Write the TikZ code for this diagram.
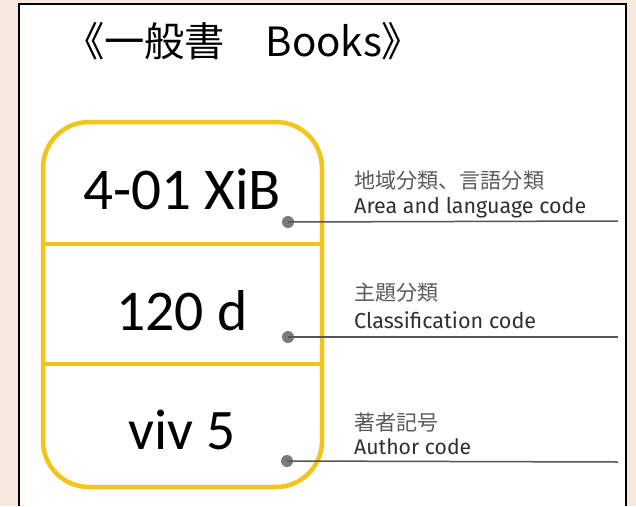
\documentclass[tikz,border=0pt]{standalone}
\usepackage{fontspec}
\usepackage{graphicx}
\newfontfamily\titlefont[RawFeature=+palt]{Noto Sans CJK JP}
\newfontfamily\jpfont{Noto Sans CJK JP}
\newfontfamily\codefont{Carlito}
\newfontfamily\labelfont{Fira Sans}
\definecolor{bgbeige}{HTML}{F5EADD}
\definecolor{gold}{HTML}{F3C41C}
\definecolor{leadgray}{HTML}{555555}
\definecolor{dotgray}{HTML}{7A7A7A}
\definecolor{jpgray}{HTML}{5A5A5A}
\definecolor{engray}{HTML}{303030}
\newcommand{\wfit}[2]{\resizebox{#1}{!}{#2}}
\tikzset{
  codetext/.style={anchor=base, inner sep=0pt, text=black,
    font=\codefont\fontsize{56}{60}\selectfont},
  jplabel/.style={anchor=base west, inner sep=0pt, text=jpgray,
    font=\jpfont\fontsize{20}{22}\selectfont},
  enlabel/.style={anchor=base west, inner sep=0pt, text=engray,
    font=\labelfont\fontsize{20}{22}\selectfont},
  callbox/.style={draw=gold, line width=4.5pt, rounded corners=46pt},
  divider/.style={draw=gold, line width=4.5pt},
  leader/.style={draw=leadgray, line width=1.5pt},
  leaddot/.style={circle, fill=dotgray, inner sep=0pt, minimum size=12pt},
}
\begin{document}
\begin{tikzpicture}[x=1pt,y=-1pt]
  \useasboundingbox (0,0) rectangle (636,506);
  \fill[bgbeige] (0,0) rectangle (636,506);
  \fill[white] (19,4) rectangle (626,506);
  \draw[black, line width=2pt] (19,506) -- (19,4) -- (626,4) -- (626,506);

  \node[anchor=base west, inner sep=0pt, font=\titlefont\fontsize{39}{44}\selectfont]
    (title) at (84,56) {\wfit{318pt}{《一般書　Books》}};

  % call number box
  \coordinate (boxtl) at (43,122);
  \coordinate (boxbr) at (322,487);
  \draw[callbox] (boxtl) rectangle (boxbr);
  \coordinate (d1l) at (43,244);
  \coordinate (d1r) at (322,244);
  \coordinate (d2l) at (43,364);
  \coordinate (d2r) at (322,364);
  \draw[divider] (d1l) -- (d1r);
  \draw[divider] (d2l) -- (d2r);

  \node[codetext] (area) at (182,209) {\wfit{198pt}{4-01 XiB}};
  \node[codetext] (class) at (182,330) {\wfit{131pt}{120 d}};
  \node[codetext] (author) at (182,449) {\wfit{107pt}{viv 5}};

  % leaders
  \node[leaddot] (dot1) at (288,222) {};
  \node[leaddot] (dot2) at (288,337) {};
  \node[leaddot] (dot3) at (287,461) {};
  \coordinate (end1) at (618,221);
  \coordinate (end2) at (618,337);
  \coordinate (end3) at (618,462);
  \draw[leader] (dot1.center) -- (end1);
  \draw[leader] (dot2.center) -- (end2);
  \draw[leader] (dot3.center) -- (end3);

  % labels
  \node[jplabel] (jp1) at (354,188) {\wfit{190pt}{地域分類、言語分類}};
  \node[enlabel] (en1) at (354,213) {\wfit{232pt}{Area and language code}};
  \node[jplabel] (jp2) at (354,300) {\wfit{84pt}{主題分類}};
  \node[enlabel] (en2) at (354,328) {\wfit{182pt}{Classification code}};
  \node[jplabel] (jp3) at (354,430) {\wfit{84pt}{著者記号}};
  \node[enlabel] (en3) at (354,454) {\wfit{117pt}{Author code}};
\end{tikzpicture}
\end{document}
